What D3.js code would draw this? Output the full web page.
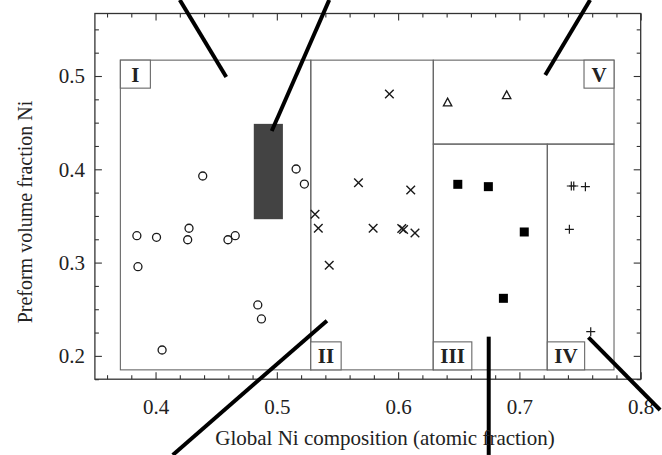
<!DOCTYPE html>
<html lang="en">
<head>
    <meta charset="UTF-8">
    <title>preform volume fraction vs composition</title>
    <script src="https://d3js.org/d3.v7.min.js"></script>
    <style>
        body{ margin: 0; background: #fff; }
        text{ font-family: "Liberation Serif", "DejaVu Serif", serif; fill: #222; }
        .frame{ fill: none; stroke: #333; stroke-width: 1.3px; }
        .axis path{ display: none; }
        .axis line{ stroke: #333; stroke-width: 1.1px; }
        .region{ fill: none; stroke: #666; stroke-width: 1.1px; }
        .tag rect{ fill: #fff; stroke: #666; stroke-width: 1.1px; }
        .tag text{ font-weight: bold; font-size: 21px; }
        .pointer{ stroke: #000; stroke-width: 4px; fill: none; }
    </style>
</head>
<body>
<svg id="chart" width="662" height="455"></svg>

<script>
    // region I : circles
    let circ_x = [0.3846, 0.3855, 0.4008, 0.4054, 0.4265, 0.4276, 0.4389, 0.4597, 0.4657, 0.4843, 0.4873, 0.5159, 0.5227];
    let circ_y = [0.3288, 0.2956, 0.3271, 0.2063, 0.3245, 0.3368, 0.3928, 0.3245, 0.3288, 0.2546, 0.2396, 0.4003, 0.3842];
    // region II : crosses
    let cross_x = [0.5315, 0.5342, 0.5432, 0.5673, 0.5794, 0.6030, 0.6045, 0.5928, 0.6104, 0.6139];
    let cross_y = [0.3518, 0.3368, 0.2971, 0.3856, 0.3368, 0.3365, 0.3355, 0.4807, 0.3778, 0.3317];
    // region III : filled squares
    let sq_x = [0.6492, 0.6744, 0.7040, 0.6868];
    let sq_y = [0.3839, 0.3814, 0.3328, 0.2617];
    // region IV : plus signs
    let plus_x = [0.7428, 0.7448, 0.7544, 0.7412, 0.7588];
    let plus_y = [0.3821, 0.3821, 0.3814, 0.3357, 0.2259];
    // region V : open triangles
    let tri_x = [0.6408, 0.6895];
    let tri_y = [0.4718, 0.4796];

    // processing window (shaded block)
    let block_x = [0.481, 0.505];
    let block_y = [0.3465, 0.4487];

    // region boundaries
    let region_names = ["I", "II", "III", "IV", "V"];
    let region_x0 = [0.371, 0.528, 0.629, 0.723, 0.629];
    let region_x1 = [0.528, 0.629, 0.723, 0.778, 0.778];
    let region_y0 = [0.185, 0.185, 0.185, 0.185, 0.427];
    let region_y1 = [0.517, 0.517, 0.427, 0.427, 0.517];
    let region_corner = ["tl", "bl", "bl", "bl", "tr"];

    // leader lines, in data units: [x1, y1, x2, y2]
    let pointers = [
        [0.4200, 0.5815, 0.4583, 0.4989],
        [0.5432, 0.5815, 0.4958, 0.4411],
        [0.7583, 0.5815, 0.7213, 0.5011],
        [0.4142, 0.0938, 0.5413, 0.2377],
        [0.6747, 0.0938, 0.6747, 0.2206],
        [0.7569, 0.2199, 0.8160, 0.1420]
    ];

    let x_ticks = [0.4, 0.5, 0.6, 0.7, 0.8];
    let y_ticks = [0.2, 0.3, 0.4, 0.5];

    let svg = d3.select("#chart");

    let x = d3.scaleLinear().domain([0.35, 0.8]).range([94.9, 640.7]);
    let y = d3.scaleLinear().domain([0.175, 0.567]).range([379.2, 13.5]);

    let x_left = x.range()[0], x_right = x.range()[1];
    let y_top = y.range()[1], y_bottom = y.range()[0];

    let x_minor = d3.range(0.36, 0.8, 0.02).filter(v => Math.abs(v * 10 - Math.round(v * 10)) > 1e-6);
    let y_minor = d3.range(0.175, 0.567, 0.025).filter(v => Math.abs(v * 10 - Math.round(v * 10)) > 1e-6);

    // axes, ticks pointing in
    svg.append("g").attr("class", "axis")
        .attr("transform", `translate(0,${y_bottom})`)
        .call(d3.axisBottom(x).tickValues(x_ticks).tickSize(-7).tickPadding(19.5).tickFormat(d3.format(".1f")))
        .call(g => g.selectAll("text").style("font-size", "21px").style("font-family", "Liberation Serif"));
    svg.append("g").attr("class", "axis")
        .attr("transform", `translate(0,${y_bottom})`)
        .call(d3.axisBottom(x).tickValues(x_minor).tickSize(-4).tickFormat(""));
    svg.append("g").attr("class", "axis")
        .attr("transform", `translate(0,${y_top})`)
        .call(d3.axisTop(x).tickValues(x_ticks).tickSize(-7).tickFormat(""));
    svg.append("g").attr("class", "axis")
        .attr("transform", `translate(0,${y_top})`)
        .call(d3.axisTop(x).tickValues(x_minor).tickSize(-4).tickFormat(""));

    svg.append("g").attr("class", "axis")
        .attr("transform", `translate(${x_left},0)`)
        .call(d3.axisLeft(y).tickValues(y_ticks).tickSize(-7).tickPadding(10).tickFormat(d3.format(".1f")))
        .call(g => g.selectAll("text").style("font-size", "21px").style("font-family", "Liberation Serif"));
    svg.append("g").attr("class", "axis")
        .attr("transform", `translate(${x_left},0)`)
        .call(d3.axisLeft(y).tickValues(y_minor).tickSize(-4).tickFormat(""));
    svg.append("g").attr("class", "axis")
        .attr("transform", `translate(${x_right},0)`)
        .call(d3.axisRight(y).tickValues(y_ticks).tickSize(-7).tickFormat(""));
    svg.append("g").attr("class", "axis")
        .attr("transform", `translate(${x_right},0)`)
        .call(d3.axisRight(y).tickValues(y_minor).tickSize(-4).tickFormat(""));

    svg.append("rect").attr("class", "frame")
        .attr("x", x_left).attr("y", y_top)
        .attr("width", x_right - x_left).attr("height", y_bottom - y_top);

    // regions
    let regions = region_names.map((n, i) => ({
        name: n, x0: region_x0[i], x1: region_x1[i], y0: region_y0[i], y1: region_y1[i], corner: region_corner[i]
    }));

    svg.append("g").selectAll("rect")
        .data(regions)
        .join("rect")
        .attr("class", "region")
        .attr("x", d => x(d.x0))
        .attr("y", d => y(d.y1))
        .attr("width", d => x(d.x1) - x(d.x0))
        .attr("height", d => y(d.y0) - y(d.y1));

    // shaded block
    svg.append("rect")
        .attr("x", x(block_x[0]))
        .attr("y", y(block_y[1]))
        .attr("width", x(block_x[1]) - x(block_x[0]))
        .attr("height", y(block_y[0]) - y(block_y[1]))
        .attr("fill", "#434343");

    // markers
    let ink = "#1a1a1a";

    svg.append("g").selectAll("circle")
        .data(d3.zip(circ_x, circ_y))
        .join("circle")
        .attr("cx", d => x(d[0])).attr("cy", d => y(d[1]))
        .attr("r", 4)
        .attr("fill", "none").attr("stroke", ink).attr("stroke-width", 1.3);

    svg.append("g").selectAll("path")
        .data(d3.zip(cross_x, cross_y))
        .join("path")
        .attr("transform", d => `translate(${x(d[0])},${y(d[1])})`)
        .attr("d", "M-4.3,-4.3L4.3,4.3M-4.3,4.3L4.3,-4.3")
        .attr("stroke", ink).attr("stroke-width", 1.4);

    svg.append("g").selectAll("rect")
        .data(d3.zip(sq_x, sq_y))
        .join("rect")
        .attr("x", d => x(d[0]) - 4.5).attr("y", d => y(d[1]) - 4.5)
        .attr("width", 9).attr("height", 9)
        .attr("fill", "#000");

    svg.append("g").selectAll("path")
        .data(d3.zip(plus_x, plus_y))
        .join("path")
        .attr("transform", d => `translate(${x(d[0])},${y(d[1])})`)
        .attr("d", "M-4.5,0L4.5,0M0,-4.5L0,4.5")
        .attr("stroke", ink).attr("stroke-width", 1.2);

    svg.append("g").selectAll("path")
        .data(d3.zip(tri_x, tri_y))
        .join("path")
        .attr("transform", d => `translate(${x(d[0])},${y(d[1])})`)
        .attr("d", "M0,-4.2L4.2,3.6L-4.2,3.6Z")
        .attr("fill", "none").attr("stroke", ink).attr("stroke-width", 1.3);

    // region tags
    let tags = svg.append("g").selectAll("g")
        .data(regions)
        .join("g")
        .attr("class", "tag");

    tags.each(function (d) {
        let g = d3.select(this);
        let t = g.append("text").text(d.name).attr("text-anchor", "middle");
        let w = Math.max(30, t.node().getComputedTextLength() + 14);
        let h = 28;
        let bx = d.corner === "tr" ? x(d.x1) - w : x(d.x0);
        let by = d.corner === "bl" ? y(d.y0) - h : y(d.y1);
        g.insert("rect", "text")
            .attr("x", bx).attr("y", by)
            .attr("width", w).attr("height", h);
        t.attr("x", bx + w / 2).attr("y", by + h / 2 + 7.5);
    });

    // leader lines
    svg.append("g").selectAll("line")
        .data(pointers)
        .join("line")
        .attr("class", "pointer")
        .attr("x1", d => x(d[0])).attr("y1", d => y(d[1]))
        .attr("x2", d => x(d[2])).attr("y2", d => y(d[3]));

    // axis titles
    svg.append("text")
        .attr("x", 385).attr("y", 445)
        .attr("text-anchor", "middle")
        .style("font-size", "21px")
        .text("Global Ni composition (atomic fraction)");

    svg.append("text")
        .attr("transform", "translate(32,212) rotate(-90)")
        .attr("text-anchor", "middle")
        .style("font-size", "20px")
        .text("Preform volume fraction Ni");
</script>

</body>
</html>
